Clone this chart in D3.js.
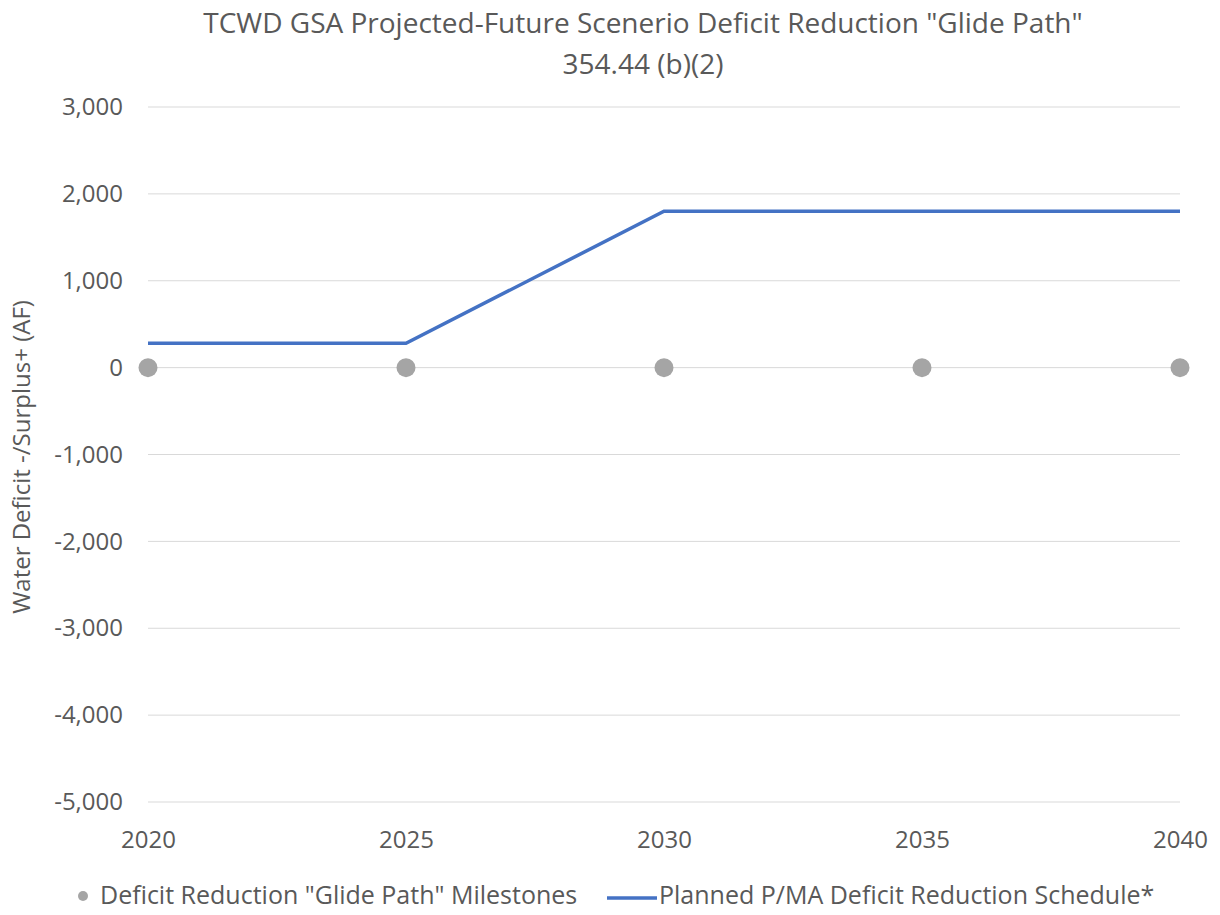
<!DOCTYPE html>
<html><head><meta charset="utf-8">
<script src="https://cdn.jsdelivr.net/npm/d3@7"></script>
<style>body{margin:0;background:#fff;} text{font-family:"Open Sans",sans-serif;}</style>
</head><body>
<svg id="c" width="1220" height="915"></svg>
<script>
const years = [2020, 2025, 2030, 2035, 2040];
const milestones = [0, 0, 0, 0, 0];
const planned = [280, 280, 1800, 1800, 1800];
const yTicks = [3000, 2000, 1000, 0, -1000, -2000, -3000, -4000, -5000];
const titleLines = ['TCWD GSA Projected-Future Scenerio Deficit Reduction "Glide Path"', '354.44 (b)(2)'];
const yTitle = 'Water Deficit -/Surplus+ (AF)';
const legendLabels = ['Deficit Reduction "Glide Path" Milestones', 'Planned P/MA Deficit Reduction Schedule*'];

const svg = d3.select('#c');
const txt = '#595959';
const x = d3.scaleLinear().domain([2020, 2040]).range([148, 1180]);
const y = d3.scaleLinear().domain([-5000, 3000]).range([802, 107]);

svg.append('g').selectAll('line').data(yTicks).join('line')
  .attr('x1', x(2020)).attr('x2', x(2040))
  .attr('y1', d => y(d)).attr('y2', d => y(d))
  .attr('stroke', '#d9d9d9').attr('stroke-width', 1);

const fmt = d => d3.format(',')(d).replace('\u2212', '-');
const yAxis = d3.axisLeft(y).tickValues(yTicks).tickSize(0).tickPadding(0).tickFormat(fmt);
svg.append('g').attr('transform', 'translate(123,0)').call(yAxis)
  .call(g => g.select('.domain').remove())
  .selectAll('text').attr('fill', txt).style('font-size', '24px').attr('font-family', '"Open Sans",sans-serif');

const xAxis = d3.axisBottom(x).tickValues(years).tickSize(0).tickPadding(0).tickFormat(d3.format('d'));
svg.append('g').attr('transform', 'translate(0,831)').call(xAxis)
  .call(g => g.select('.domain').remove())
  .selectAll('text').attr('fill', txt).style('font-size', '24px').attr('font-family', '"Open Sans",sans-serif');

svg.append('g').selectAll('text').data(titleLines).join('text')
  .attr('x', 643).attr('y', (d, i) => 33 + i * 41)
  .attr('text-anchor', 'middle').attr('fill', txt).style('font-size', '28px').text(d => d);

svg.append('text').attr('transform', 'translate(30,457) rotate(-90)')
  .attr('text-anchor', 'middle').attr('fill', txt).style('font-size', '24px').text(yTitle);

const line = d3.line().x((d, i) => x(years[i])).y(d => y(d));
svg.append('path').datum(planned).attr('d', line)
  .attr('fill', 'none').attr('stroke', '#4472c4').attr('stroke-width', 3.5);

svg.append('g').selectAll('circle').data(milestones).join('circle')
  .attr('cx', (d, i) => x(years[i])).attr('cy', d => y(d)).attr('r', 9.5)
  .attr('fill', '#a5a5a5');

const lg = svg.append('g');
lg.append('circle').attr('cx', 83).attr('cy', 896).attr('r', 5).attr('fill', '#a5a5a5');
lg.append('text').attr('x', 100).attr('y', 904).attr('fill', txt).style('font-size', '25px').text(legendLabels[0]);
lg.append('line').attr('x1', 607).attr('x2', 657).attr('y1', 898).attr('y2', 898).attr('stroke', '#4472c4').attr('stroke-width', 3.5);
lg.append('text').attr('x', 659).attr('y', 904).attr('fill', txt).style('font-size', '25px').text(legendLabels[1]);
</script>
</body></html>
